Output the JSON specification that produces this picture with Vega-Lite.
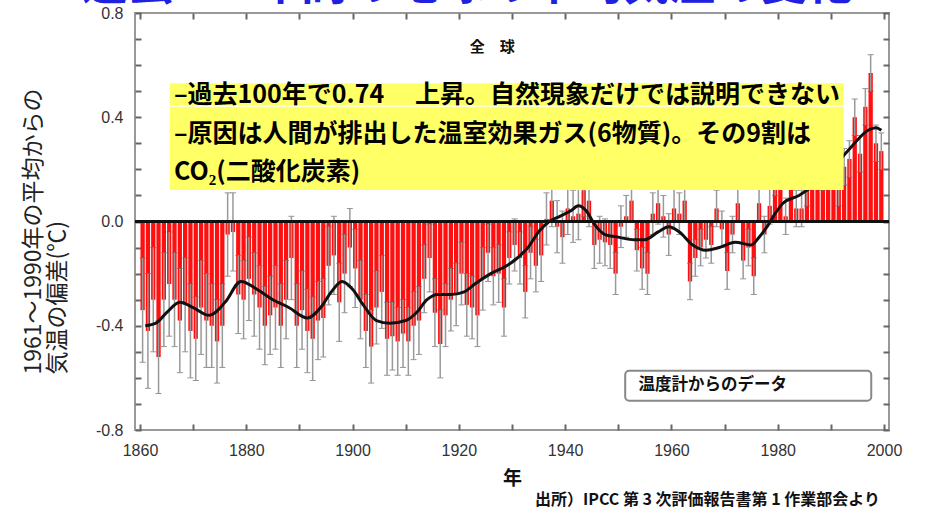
{
  "$schema": "https://vega.github.io/schema/vega-lite/v6.json",
  "width": 754,
  "height": 417,
  "autosize": {"type": "none"},
  "padding": {"left": 135, "top": 13, "right": 50, "bottom": 82},
  "background": "white",
  "config": {
    "font": "Noto Sans CJK JP",
    "view": {"stroke": "#999", "strokeWidth": 2},
    "axis": {"domain": false, "grid": false}
  },
  "datasets": {
    "temps": [
      {"year":1861,"value":-0.34,"err":0.20},{"year":1862,"value":-0.42,"err":0.22},{"year":1863,"value":-0.30,"err":0.20},{"year":1864,"value":-0.52,"err":0.14},{"year":1865,"value":-0.30,"err":0.18},
      {"year":1866,"value":-0.24,"err":0.20},{"year":1867,"value":-0.30,"err":0.18},{"year":1868,"value":-0.38,"err":0.20},{"year":1869,"value":-0.32,"err":0.18},{"year":1870,"value":-0.42,"err":0.18},
      {"year":1871,"value":-0.45,"err":0.16},{"year":1872,"value":-0.33,"err":0.18},{"year":1873,"value":-0.38,"err":0.18},{"year":1874,"value":-0.40,"err":0.16},{"year":1875,"value":-0.46,"err":0.16},
      {"year":1876,"value":-0.40,"err":0.16},{"year":1877,"value":-0.05,"err":0.16},{"year":1878,"value":-0.04,"err":0.15},{"year":1879,"value":-0.28,"err":0.15},{"year":1880,"value":-0.30,"err":0.15},
      {"year":1881,"value":-0.22,"err":0.16},{"year":1882,"value":-0.28,"err":0.16},{"year":1883,"value":-0.33,"err":0.16},{"year":1884,"value":-0.40,"err":0.15},{"year":1885,"value":-0.36,"err":0.15},
      {"year":1886,"value":-0.33,"err":0.16},{"year":1887,"value":-0.40,"err":0.16},{"year":1888,"value":-0.30,"err":0.15},{"year":1889,"value":-0.14,"err":0.16},{"year":1890,"value":-0.40,"err":0.16},
      {"year":1891,"value":-0.34,"err":0.15},{"year":1892,"value":-0.42,"err":0.16},{"year":1893,"value":-0.45,"err":0.16},{"year":1894,"value":-0.38,"err":0.15},{"year":1895,"value":-0.37,"err":0.15},
      {"year":1896,"value":-0.17,"err":0.15},{"year":1897,"value":-0.13,"err":0.15},{"year":1898,"value":-0.31,"err":0.15},{"year":1899,"value":-0.20,"err":0.15},{"year":1900,"value":-0.10,"err":0.15},
      {"year":1901,"value":-0.18,"err":0.15},{"year":1902,"value":-0.30,"err":0.15},{"year":1903,"value":-0.42,"err":0.14},{"year":1904,"value":-0.48,"err":0.14},{"year":1905,"value":-0.33,"err":0.14},
      {"year":1906,"value":-0.27,"err":0.14},{"year":1907,"value":-0.45,"err":0.14},{"year":1908,"value":-0.44,"err":0.13},{"year":1909,"value":-0.46,"err":0.13},{"year":1910,"value":-0.43,"err":0.13},
      {"year":1911,"value":-0.46,"err":0.13},{"year":1912,"value":-0.40,"err":0.13},{"year":1913,"value":-0.38,"err":0.13},{"year":1914,"value":-0.22,"err":0.13},{"year":1915,"value":-0.14,"err":0.13},
      {"year":1916,"value":-0.35,"err":0.13},{"year":1917,"value":-0.47,"err":0.13},{"year":1918,"value":-0.36,"err":0.12},{"year":1919,"value":-0.30,"err":0.12},{"year":1920,"value":-0.28,"err":0.12},
      {"year":1921,"value":-0.20,"err":0.12},{"year":1922,"value":-0.32,"err":0.12},{"year":1923,"value":-0.33,"err":0.12},{"year":1924,"value":-0.36,"err":0.12},{"year":1925,"value":-0.22,"err":0.12},
      {"year":1926,"value":-0.12,"err":0.11},{"year":1927,"value":-0.21,"err":0.11},{"year":1928,"value":-0.20,"err":0.11},{"year":1929,"value":-0.33,"err":0.11},{"year":1930,"value":-0.14,"err":0.10},
      {"year":1931,"value":-0.09,"err":0.10},{"year":1932,"value":-0.14,"err":0.10},{"year":1933,"value":-0.27,"err":0.10},{"year":1934,"value":-0.12,"err":0.10},{"year":1935,"value":-0.17,"err":0.10},
      {"year":1936,"value":-0.13,"err":0.10},{"year":1937,"value":0.01,"err":0.10},{"year":1938,"value":0.08,"err":0.10},{"year":1939,"value":-0.02,"err":0.10},{"year":1940,"value":-0.06,"err":0.10},
      {"year":1941,"value":0.05,"err":0.10},{"year":1942,"value":0.02,"err":0.10},{"year":1943,"value":0.03,"err":0.10},{"year":1944,"value":0.12,"err":0.10},{"year":1945,"value":0.08,"err":0.10},
      {"year":1946,"value":-0.09,"err":0.09},{"year":1947,"value":-0.07,"err":0.09},{"year":1948,"value":-0.08,"err":0.09},{"year":1949,"value":-0.09,"err":0.09},{"year":1950,"value":-0.20,"err":0.08},
      {"year":1951,"value":-0.02,"err":0.08},{"year":1952,"value":0.02,"err":0.08},{"year":1953,"value":0.08,"err":0.08},{"year":1954,"value":-0.11,"err":0.08},{"year":1955,"value":-0.18,"err":0.08},
      {"year":1956,"value":-0.20,"err":0.08},{"year":1957,"value":0.03,"err":0.08},{"year":1958,"value":0.07,"err":0.08},{"year":1959,"value":0.02,"err":0.08},{"year":1960,"value":-0.05,"err":0.08},
      {"year":1961,"value":0.05,"err":0.08},{"year":1962,"value":0.03,"err":0.08},{"year":1963,"value":0.08,"err":0.08},{"year":1964,"value":-0.23,"err":0.07},{"year":1965,"value":-0.14,"err":0.07},
      {"year":1966,"value":-0.10,"err":0.07},{"year":1967,"value":-0.07,"err":0.07},{"year":1968,"value":-0.09,"err":0.07},{"year":1969,"value":0.05,"err":0.07},{"year":1970,"value":-0.03,"err":0.07},
      {"year":1971,"value":-0.19,"err":0.07},{"year":1972,"value":-0.05,"err":0.07},{"year":1973,"value":0.07,"err":0.07},{"year":1974,"value":-0.15,"err":0.07},{"year":1975,"value":-0.10,"err":0.07},
      {"year":1976,"value":-0.21,"err":0.07},{"year":1977,"value":0.07,"err":0.07},{"year":1978,"value":-0.05,"err":0.07},{"year":1979,"value":0.06,"err":0.07},{"year":1980,"value":0.17,"err":0.07},
      {"year":1981,"value":0.22,"err":0.07},{"year":1982,"value":0.02,"err":0.07},{"year":1983,"value":0.26,"err":0.07},{"year":1984,"value":0.05,"err":0.07},{"year":1985,"value":0.05,"err":0.07},
      {"year":1986,"value":0.13,"err":0.07},{"year":1987,"value":0.27,"err":0.07},{"year":1988,"value":0.29,"err":0.07},{"year":1989,"value":0.19,"err":0.07},{"year":1990,"value":0.38,"err":0.07},
      {"year":1991,"value":0.32,"err":0.07},{"year":1992,"value":0.13,"err":0.07},{"year":1993,"value":0.21,"err":0.07},{"year":1994,"value":0.24,"err":0.07},{"year":1995,"value":0.40,"err":0.07},
      {"year":1996,"value":0.26,"err":0.07},{"year":1997,"value":0.44,"err":0.07},{"year":1998,"value":0.57,"err":0.07},{"year":1999,"value":0.30,"err":0.07},{"year":2000,"value":0.27,"err":0.07}
    ],
    "smooth": [
      {"year":1861,"value":-0.40},{"year":1863,"value":-0.39},{"year":1865,"value":-0.35},{"year":1867.5,"value":-0.31},{"year":1870,"value":-0.33},
      {"year":1873,"value":-0.36},{"year":1876,"value":-0.31},{"year":1879,"value":-0.23},{"year":1882,"value":-0.26},{"year":1885,"value":-0.30},
      {"year":1888,"value":-0.33},{"year":1891.5,"value":-0.37},{"year":1894,"value":-0.33},{"year":1896,"value":-0.27},{"year":1898,"value":-0.23},
      {"year":1900,"value":-0.26},{"year":1902,"value":-0.32},{"year":1904.5,"value":-0.38},{"year":1907,"value":-0.39},{"year":1910,"value":-0.38},
      {"year":1912,"value":-0.35},{"year":1914,"value":-0.30},{"year":1916,"value":-0.28},{"year":1918.5,"value":-0.28},{"year":1921,"value":-0.27},
      {"year":1923,"value":-0.24},{"year":1926,"value":-0.20},{"year":1929,"value":-0.17},{"year":1931,"value":-0.14},{"year":1933,"value":-0.10},
      {"year":1935,"value":-0.04},{"year":1937,"value":0.00},{"year":1939,"value":0.02},{"year":1941,"value":0.04},{"year":1942.5,"value":0.06},
      {"year":1944,"value":0.04},{"year":1945.5,"value":-0.01},{"year":1947.5,"value":-0.05},{"year":1950,"value":-0.06},{"year":1953,"value":-0.07},
      {"year":1955,"value":-0.07},{"year":1957.5,"value":-0.04},{"year":1959.5,"value":-0.02},{"year":1961.5,"value":-0.04},{"year":1964,"value":-0.09},
      {"year":1966.5,"value":-0.11},{"year":1969,"value":-0.10},{"year":1972,"value":-0.08},{"year":1975,"value":-0.09},{"year":1976.5,"value":-0.06},
      {"year":1978,"value":-0.02},{"year":1979.5,"value":0.03},{"year":1981,"value":0.07},{"year":1984,"value":0.10},{"year":1987.5,"value":0.15},
      {"year":1991,"value":0.22},{"year":1994,"value":0.29},{"year":1997,"value":0.35},{"year":1998.5,"value":0.36},{"year":1999.5,"value":0.35}
    ]
  },
  "data": {"name": "temps"},
  "resolve": {"axis": {"x": "independent", "y": "independent"}},
  "layer": [
    {
      "mark": {"type": "bar", "color": "#FF1010", "width": 4.3, "xOffset": -2.7},
      "encoding": {
        "x": {
          "field": "year", "type": "quantitative",
          "scale": {"domain": [1860, 2000], "nice": false, "zero": false},
          "axis": {
            "orient": "bottom",
            "values": [1860,1870,1880,1890,1900,1910,1920,1930,1940,1950,1960,1970,1980,1990,2000],
            "format": "d",
            "labelExpr": "datum.value % 20 == 0 ? datum.label : ''",
            "labelFlush": false, "labelOverlap": false,
            "tickSize": -6, "tickColor": "#666", "tickWidth": 2,
            "labelFont": "Liberation Sans", "labelFontSize": 16, "labelColor": "#333", "labelPadding": 18,
            "title": "年", "titleFontSize": 19, "titleFontWeight": "bold", "titleColor": "#111",
            "titleX": 377, "titleY": 48, "titleBaseline": "middle", "titleAlign": "center"
          }
        },
        "y": {
          "field": "value", "type": "quantitative",
          "scale": {"domain": [-0.8, 0.8], "nice": false, "zero": false},
          "axis": {
            "orient": "left",
            "values": [-0.8,-0.7,-0.6,-0.5,-0.4,-0.3,-0.2,-0.1,0,0.1,0.2,0.3,0.4,0.5,0.6,0.7,0.8],
            "labelExpr": "abs(round(datum.value*10)) % 4 == 0 ? (datum.value < -0.01 ? '-' : '') + format(abs(datum.value), '.1f') : ''",
            "labelOverlap": false, "labelFlush": false,
            "tickSize": -6, "tickColor": "#666", "tickWidth": 2,
            "labelFont": "Liberation Sans", "labelFontSize": 16, "labelColor": "#333", "labelPadding": 18,
            "title": ["1961～1990年の平均からの", "気温の偏差(℃)"],
            "titleFontSize": 23, "titleFontWeight": "normal", "titleColor": "#222",
            "titleAngle": 270, "titleAlign": "left", "titleBaseline": "top",
            "titleX": -113, "titleY": 361, "titleLineHeight": 24
          }
        },
        "y2": {"datum": 0}
      }
    },
    {
      "mark": {
        "type": "errorbar",
        "ticks": {"color": "#666", "size": 6, "xOffset": -2.7},
        "rule": {"color": "#999", "strokeWidth": 1.5, "xOffset": -2.7}
      },
      "encoding": {
        "x": {"field": "year", "type": "quantitative", "axis": null},
        "y": {"field": "value", "type": "quantitative", "axis": null},
        "yError": {"field": "err"}
      }
    },
    {
      "mark": {"type": "rule", "color": "#111", "strokeWidth": 2},
      "encoding": {"y": {"datum": 0, "axis": null}}
    },
    {
      "data": {"name": "smooth"},
      "mark": {"type": "line", "color": "#111", "strokeWidth": 3, "interpolate": "monotone"},
      "encoding": {
        "x": {
          "field": "year", "type": "quantitative",
          "axis": {
            "orient": "top", "labels": false, "title": null,
            "values": [1860,1870,1880,1890,1900,1910,1920,1930,1940,1950,1960,1970,1980,1990,2000],
            "tickSize": -6, "tickColor": "#666", "tickWidth": 2
          }
        },
        "y": {
          "field": "value", "type": "quantitative",
          "axis": {
            "orient": "right", "labels": false, "title": null,
            "values": [-0.8,-0.7,-0.6,-0.5,-0.4,-0.3,-0.2,-0.1,0,0.1,0.2,0.3,0.4,0.5,0.6,0.7,0.8],
            "tickSize": -6, "tickColor": "#666", "tickWidth": 2
          }
        }
      }
    },
    {
      "data": {"values": [{"label": "box"}]},
      "mark": {"type": "rect", "color": "#FFFF66"},
      "encoding": {
        "x": {"datum": 1865.6, "type": "quantitative", "axis": null},
        "x2": {"datum": 1992.4},
        "y": {"datum": 0.53, "type": "quantitative", "axis": null},
        "y2": {"datum": 0.121}
      }
    },
    {
      "data": {"values": [{"label": "box text"}]},
      "mark": {
        "type": "text", "align": "left", "baseline": "top", "fontSize": 25, "fontWeight": "bold",
        "color": "#000", "lineHeight": 38.5, "font": "Noto Sans CJK JP"
      },
      "encoding": {
        "x": {"datum": 1866.4, "type": "quantitative", "axis": null},
        "y": {"datum": 0.53, "type": "quantitative", "axis": null},
        "text": {"value": ["–過去100年で0.74　 上昇。自然現象だけでは説明できない", "–原因は人間が排出した温室効果ガス(6物質)。その9割は", "CO₂(二酸化炭素)"]}
      }
    },
    {
      "data": {"values": [{"label": "white line"}]},
      "mark": {"type": "rule", "color": "white", "strokeWidth": 1.2},
      "encoding": {
        "x": {"datum": 1865.6, "type": "quantitative", "axis": null},
        "x2": {"datum": 1992.4},
        "y": {"datum": 0.443, "type": "quantitative", "axis": null}
      }
    },
    {
      "data": {"values": [{"label": "legend box"}]},
      "mark": {"type": "rect", "fill": "white", "stroke": "#888", "strokeWidth": 2, "cornerRadius": 4},
      "encoding": {
        "x": {"datum": 1951.3, "type": "quantitative", "axis": null},
        "x2": {"datum": 1997.6},
        "y": {"datum": -0.573, "type": "quantitative", "axis": null},
        "y2": {"datum": -0.688}
      }
    },
    {
      "data": {"values": [{"label": "温度計からのデータ"}]},
      "mark": {"type": "text", "align": "left", "baseline": "middle", "fontSize": 16.5, "fontWeight": "bold", "color": "#111"},
      "encoding": {
        "x": {"datum": 1953.8, "type": "quantitative", "axis": null},
        "y": {"datum": -0.628, "type": "quantitative", "axis": null},
        "text": {"field": "label"}
      }
    },
    {
      "data": {"values": [{"label": "全　球"}]},
      "mark": {"type": "text", "align": "center", "baseline": "middle", "fontSize": 15, "fontWeight": "bold", "color": "#111"},
      "encoding": {
        "x": {"datum": 1926.3, "type": "quantitative", "axis": null},
        "y": {"datum": 0.669, "type": "quantitative", "axis": null},
        "text": {"field": "label"}
      }
    },
    {
      "data": {"values": [{"label": "過去140年間の地球の平均気温の変化"}]},
      "mark": {"type": "text", "align": "center", "baseline": "alphabetic", "fontSize": 46, "fontWeight": "bold", "color": "#2020E0"},
      "encoding": {
        "x": {"datum": 1921.6, "type": "quantitative", "axis": null},
        "y": {"datum": 0.852, "type": "quantitative", "axis": null},
        "text": {"field": "label"}
      }
    },
    {
      "data": {"values": [{"label": "出所）IPCC 第 3 次評価報告書第 1 作業部会より"}]},
      "mark": {"type": "text", "align": "right", "baseline": "middle", "fontSize": 16, "fontWeight": "bold", "color": "#111"},
      "encoding": {
        "x": {"datum": 1999.25, "type": "quantitative", "axis": null},
        "y": {"datum": -1.069, "type": "quantitative", "axis": null},
        "text": {"field": "label"}
      }
    }
  ]
}
